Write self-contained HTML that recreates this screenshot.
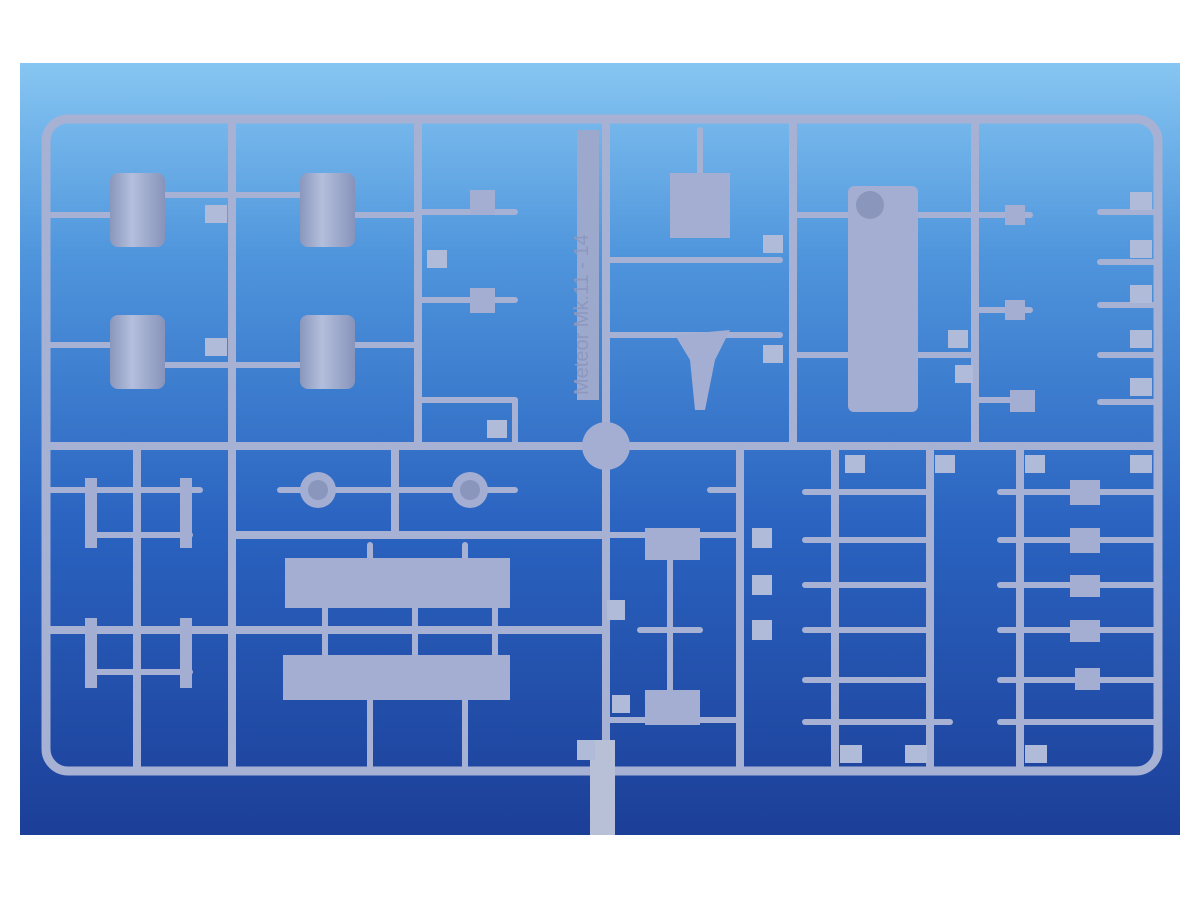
<!DOCTYPE html>
<html><head><meta charset="utf-8"><style>
html,body{margin:0;padding:0;background:#fff;width:1200px;height:900px;overflow:hidden}
</style></head><body>
<svg width="1200" height="900" viewBox="0 0 1200 900" xmlns="http://www.w3.org/2000/svg">
<defs>
<linearGradient id="bg" x1="0" y1="0" x2="0" y2="1">
<stop offset="0" stop-color="#86c6f2"/>
<stop offset="0.25" stop-color="#4f95dc"/>
<stop offset="0.6" stop-color="#2a63c0"/>
<stop offset="1" stop-color="#1c3f98"/>
</linearGradient>
<linearGradient id="cyl" x1="0" y1="0" x2="1" y2="0">
<stop offset="0" stop-color="#8a97bd"/><stop offset="0.4" stop-color="#b4bfdc"/><stop offset="1" stop-color="#8793ba"/>
</linearGradient>
</defs>
<rect x="20" y="63" width="1160" height="772" fill="url(#bg)"/>
<g stroke="#a6b1d4" stroke-linecap="round" fill="none">
<rect x="46" y="119" width="1112" height="652" rx="22" stroke-width="9"/>
<g stroke-width="8">
<line x1="46" y1="446" x2="1158" y2="446"/>
<line x1="232" y1="119" x2="232" y2="771"/>
<line x1="418" y1="119" x2="418" y2="446"/>
<line x1="606" y1="119" x2="606" y2="771"/>
<line x1="793" y1="119" x2="793" y2="446"/>
<line x1="975" y1="119" x2="975" y2="446"/>
<line x1="137" y1="446" x2="137" y2="771"/>
<line x1="395" y1="446" x2="395" y2="535"/>
<line x1="740" y1="446" x2="740" y2="771"/>
<line x1="835" y1="446" x2="835" y2="771"/>
<line x1="930" y1="446" x2="930" y2="771"/>
<line x1="1020" y1="446" x2="1020" y2="771"/>
<line x1="232" y1="535" x2="606" y2="535"/>
<line x1="46" y1="630" x2="606" y2="630"/>
</g>
<g stroke-width="6">
<line x1="50" y1="215" x2="110" y2="215"/><line x1="165" y1="195" x2="300" y2="195"/><line x1="355" y1="215" x2="418" y2="215"/>
<line x1="50" y1="345" x2="110" y2="345"/><line x1="165" y1="365" x2="300" y2="365"/><line x1="355" y1="345" x2="418" y2="345"/>
<line x1="418" y1="212" x2="515" y2="212"/><line x1="418" y1="300" x2="515" y2="300"/><line x1="418" y1="400" x2="515" y2="400"/><line x1="515" y1="400" x2="515" y2="446"/>
<line x1="606" y1="260" x2="780" y2="260"/><line x1="606" y1="335" x2="780" y2="335"/><line x1="700" y1="130" x2="700" y2="175"/>
<line x1="793" y1="215" x2="848" y2="215"/><line x1="918" y1="215" x2="1030" y2="215"/><line x1="793" y1="355" x2="848" y2="355"/><line x1="918" y1="355" x2="975" y2="355"/>
<line x1="975" y1="310" x2="1030" y2="310"/><line x1="975" y1="400" x2="1010" y2="400"/>
<line x1="1100" y1="212" x2="1158" y2="212"/><line x1="1100" y1="262" x2="1158" y2="262"/><line x1="1100" y1="305" x2="1158" y2="305"/><line x1="1100" y1="355" x2="1158" y2="355"/><line x1="1100" y1="402" x2="1158" y2="402"/>
<line x1="50" y1="490" x2="200" y2="490"/><line x1="90" y1="535" x2="190" y2="535"/><line x1="50" y1="630" x2="200" y2="630"/><line x1="90" y1="672" x2="190" y2="672"/>
<line x1="280" y1="490" x2="515" y2="490"/><line x1="370" y1="545" x2="370" y2="560"/><line x1="465" y1="545" x2="465" y2="560"/>
<line x1="370" y1="700" x2="370" y2="771"/><line x1="465" y1="700" x2="465" y2="771"/>
<line x1="325" y1="605" x2="325" y2="655"/><line x1="415" y1="605" x2="415" y2="655"/><line x1="495" y1="605" x2="495" y2="655"/>
<line x1="606" y1="535" x2="740" y2="535"/><line x1="606" y1="720" x2="740" y2="720"/><line x1="670" y1="560" x2="670" y2="690"/><line x1="640" y1="630" x2="700" y2="630"/>
<line x1="710" y1="490" x2="740" y2="490"/>
<line x1="805" y1="492" x2="930" y2="492"/><line x1="805" y1="540" x2="930" y2="540"/><line x1="805" y1="585" x2="930" y2="585"/><line x1="805" y1="630" x2="930" y2="630"/><line x1="805" y1="680" x2="930" y2="680"/><line x1="805" y1="722" x2="950" y2="722"/>
<line x1="1000" y1="492" x2="1158" y2="492"/><line x1="1000" y1="540" x2="1158" y2="540"/><line x1="1000" y1="585" x2="1158" y2="585"/><line x1="1000" y1="630" x2="1158" y2="630"/><line x1="1000" y1="680" x2="1158" y2="680"/><line x1="1000" y1="722" x2="1158" y2="722"/>
</g>
</g>
<g fill="url(#cyl)">
<rect x="110" y="173" width="55" height="74" rx="8"/><rect x="300" y="173" width="55" height="74" rx="8"/>
<rect x="110" y="315" width="55" height="74" rx="8"/><rect x="300" y="315" width="55" height="74" rx="8"/>
</g>
<g fill="#a3aed2">
<circle cx="606" cy="446" r="24"/>
<rect x="577" y="130" width="22" height="270" fill="#9ca8cc"/>
<rect x="848" y="186" width="70" height="226" rx="6"/>
<rect x="670" y="173" width="60" height="65"/>
<path d="M675 335 L730 330 L715 360 L705 410 L695 410 L690 360 Z"/>
<rect x="285" y="558" width="225" height="50"/>
<rect x="283" y="655" width="227" height="45"/>
<rect x="645" y="528" width="55" height="32"/><rect x="645" y="690" width="55" height="35"/>
<rect x="590" y="740" width="25" height="95" fill="#b8c0d8"/>
<circle cx="318" cy="490" r="18"/><circle cx="470" cy="490" r="18"/>
<rect x="470" y="190" width="25" height="25"/><rect x="470" y="288" width="25" height="25"/>
<rect x="1070" y="480" width="30" height="25"/><rect x="1070" y="528" width="30" height="25"/><rect x="1070" y="575" width="30" height="22"/><rect x="1070" y="620" width="30" height="22"/><rect x="1075" y="668" width="25" height="22"/>
<rect x="1005" y="205" width="20" height="20"/><rect x="1005" y="300" width="20" height="20"/><rect x="1010" y="390" width="25" height="22"/>
<rect x="85" y="478" width="12" height="70"/><rect x="180" y="478" width="12" height="70"/><rect x="85" y="618" width="12" height="70"/><rect x="180" y="618" width="12" height="70"/>
</g>
<g fill="#8b96bc"><circle cx="318" cy="490" r="10"/><circle cx="470" cy="490" r="10"/><circle cx="870" cy="205" r="14"/></g>
<g fill="#b0bad9">
<rect x="205" y="205" width="22" height="18"/><rect x="205" y="338" width="22" height="18"/><rect x="427" y="250" width="20" height="18"/><rect x="487" y="420" width="20" height="18"/>
<rect x="763" y="235" width="20" height="18"/><rect x="763" y="345" width="20" height="18"/><rect x="948" y="330" width="20" height="18"/><rect x="955" y="365" width="18" height="18"/>
<rect x="1130" y="192" width="22" height="18"/><rect x="1130" y="240" width="22" height="18"/><rect x="1130" y="285" width="22" height="18"/><rect x="1130" y="330" width="22" height="18"/><rect x="1130" y="378" width="22" height="18"/>
<rect x="752" y="528" width="20" height="20"/><rect x="752" y="575" width="20" height="20"/><rect x="752" y="620" width="20" height="20"/>
<rect x="845" y="455" width="20" height="18"/><rect x="935" y="455" width="20" height="18"/><rect x="1025" y="455" width="20" height="18"/><rect x="1130" y="455" width="22" height="18"/>
<rect x="840" y="745" width="22" height="18"/><rect x="905" y="745" width="22" height="18"/><rect x="1025" y="745" width="22" height="18"/>
<rect x="577" y="740" width="18" height="20"/><rect x="612" y="695" width="18" height="18"/><rect x="607" y="600" width="18" height="20"/>
</g>
<text x="588" y="395" transform="rotate(-90 588 395)" font-family="Liberation Sans, sans-serif" font-size="20" fill="#8c98bf">Meteor Mk.11 - 14</text>
</svg>
</body></html>
